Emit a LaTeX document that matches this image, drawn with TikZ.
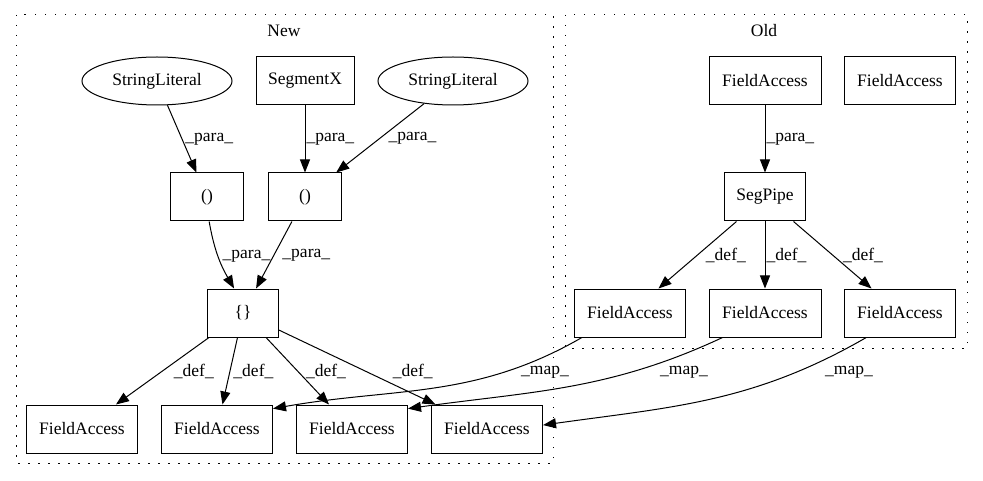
\documentclass[tikz,border=0pt]{standalone}
\usepackage{fontspec}
\setmainfont{Liberation Serif}
\usepackage{tikz}
\usetikzlibrary{positioning, arrows, arrows.meta, shapes.geometric}

\begin{document}
\begin{tikzpicture}[x=1pt, y=1pt,
  box/.style={draw, line width=1pt, rectangle, minimum height=48pt, inner sep=0pt, font=\fontsize{17.5}{20}\selectfont},
  lit/.style={draw, line width=1pt, ellipse, minimum width=150pt, minimum height=48pt, inner sep=0pt, font=\fontsize{17.5}{20}\selectfont},
  cluster/.style={draw, line width=1pt, dash pattern=on 1.5pt off 8.5pt},
  edge/.style={-{Triangle[length=13pt, width=10pt]}, line width=1pt},
  lbl/.style={inner sep=1pt, font=\fontsize{17.5}{20}\selectfont}]
\useasboundingbox (0,0) rectangle (983,480);

% clusters
\draw[cluster] (16,465) rectangle (553,17);
\draw[cluster] (565,465) rectangle (967,132);
\node[lbl] (tnew) at (284,449) {New};
\node[lbl] (told) at (764,449) {Old};

% New
\node[lit] (sl1) at (157,399) {StringLiteral};
\node[box, minimum width=98pt] (segx) at (305,399) {SegmentX};
\node[lit] (sl2) at (453,399) {StringLiteral};
\node[box, minimum width=73pt] (p1) at (207,283) {()};
\node[box, minimum width=73pt] (p2) at (305,283) {()};
\node[box, minimum width=71pt] (br) at (243,167) {\{\}};
\node[box, minimum width=111pt] (fa1) at (82,51) {FieldAccess};
\node[box, minimum width=111pt] (fa2) at (217,51) {FieldAccess};
\node[box, minimum width=111pt] (fa3) at (352,51) {FieldAccess};
\node[box, minimum width=111pt] (fa4) at (487,51) {FieldAccess};

% Old
\node[box, minimum width=112pt] (ofa0) at (765,399) {FieldAccess};
\node[box, minimum width=111pt] (ofax) at (900,399) {FieldAccess};
\node[box, minimum width=81pt] (seg) at (765,283) {SegPipe};
\node[box, minimum width=111pt] (ofa1) at (630,167) {FieldAccess};
\node[box, minimum width=112pt] (ofa2) at (765,167) {FieldAccess};
\node[box, minimum width=111pt] (ofa3) at (900,167) {FieldAccess};

\draw[edge] (sl1)--(p1) node[lbl, midway, right, xshift=2] {\_para\_};
\draw[edge] (segx)--(p2) node[lbl, midway, right] {\_para\_};
\draw[edge] (sl2)--(p2) node[lbl, midway, right, xshift=7] {\_para\_};
\draw[edge] (p1.-85) to[out=-80, in=120] node[lbl, midway, right, xshift=3] {\_para\_} (br.110);
\draw[edge] (p2)--(br) node[lbl, midway, right, xshift=7] {\_para\_};

\draw[edge] (br)--(fa1) node[lbl, midway, right, xshift=10] {\_def\_};
\draw[edge] (br)--(fa2) node[lbl, midway, right, xshift=2] {\_def\_};
\draw[edge] (br)--(fa3) node[lbl, midway, right, xshift=7] {\_def\_};
\draw[edge] (br)--(fa4) node[lbl, midway, right, xshift=34, yshift=-4] {\_def\_};

\draw[edge] (ofa0)--(seg) node[lbl, midway, right] {\_para\_};
\draw[edge] (seg)--(ofa1) node[lbl, midway, right, xshift=7] {\_def\_};
\draw[edge] (seg)--(ofa2) node[lbl, midway, right] {\_def\_};
\draw[edge] (seg)--(ofa3) node[lbl, midway, right, xshift=9] {\_def\_};

% mappings
\draw[edge] (ofa1.-153) to[out=-150, in=10] (fa2.20) node[lbl] (m1) at (545,108) {\_map\_};
\draw[edge] (ofa2.-150) to[out=-155, in=8] (fa3.20) node[lbl] (m2) at (684,108) {\_map\_};
\draw[edge] (ofa3.-144) to[out=-150, in=8] (fa4.4) node[lbl] (m3) at (849,108) {\_map\_};
\end{tikzpicture}
\end{document}
